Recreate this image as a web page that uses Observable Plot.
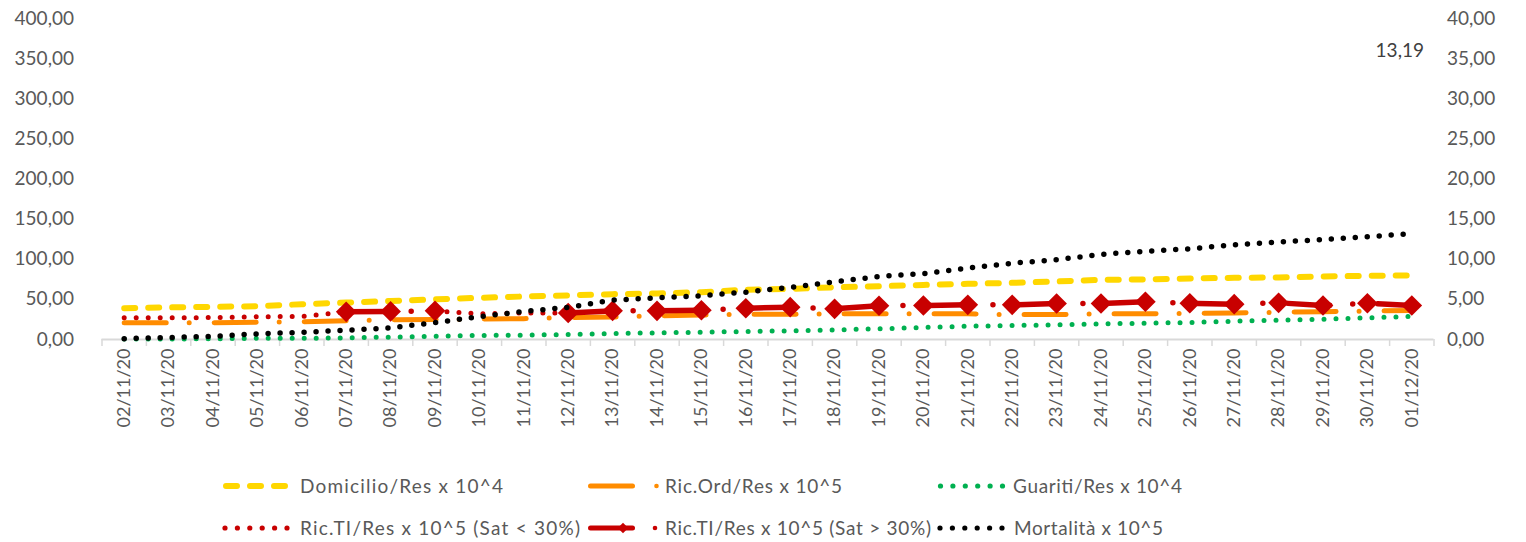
<!DOCTYPE html>
<html><head><meta charset="utf-8">
<script src="https://cdn.jsdelivr.net/npm/d3@7"></script>
<script src="https://cdn.jsdelivr.net/npm/@observablehq/plot@0.6"></script>
<style>
body{margin:0;background:#fff;font-family:Lato,"Open Sans",sans-serif;}
#wrap{position:relative;width:1526px;height:542px;overflow:hidden;}
#chart{position:absolute;left:0;top:0;}
#legend{position:absolute;left:0;top:445px;}
</style></head><body>
<div id="wrap"><div id="chart"></div><svg id="legend" width="1526" height="97"></svg></div>
<script>
const dates = ["02/11/20","03/11/20","04/11/20","05/11/20","06/11/20","07/11/20","08/11/20","09/11/20","10/11/20","11/11/20","12/11/20","13/11/20","14/11/20","15/11/20","16/11/20","17/11/20","18/11/20","19/11/20","20/11/20","21/11/20","22/11/20","23/11/20","24/11/20","25/11/20","26/11/20","27/11/20","28/11/20","29/11/20","30/11/20","01/12/20"];
// left axis units
const domicilio = [39, 40, 40.7, 41.5, 44, 46, 48, 50, 52, 53.6, 55, 56.5, 57.3, 59, 62, 63, 65, 66.4, 68, 69.4, 70.6, 72.3, 74.4, 74.8, 76, 76.9, 77.3, 78.5, 79.4, 79.8];
const ricOrd = [21, 21, 21, 21.5, 22, 23.5, 24.5, 25, 25.5, 26, 27.5, 28, 29.5, 30.5, 31.5, 31.5, 32, 32, 32, 32, 31, 31, 32, 32, 32.5, 33, 34, 34.5, 35.5, 36];
const guariti = [0.5, 0.5, 1, 1.5, 1.5, 2, 3, 4, 5, 5.4, 6.2, 7.5, 8.3, 9.1, 10, 10.8, 12, 13.3, 15, 16.6, 17.4, 18.3, 19.5, 20.3, 21.2, 22.8, 24, 25.3, 27, 28.7];
const ricTIlow = [27, 27, 27.4, 28.3, 28.7, 34.5, null, 35.7, 32, 33, 33, null, null, null, null, null, null, null, null, null, null, null, null, null, null, null, null, null, null, null];
const ricTIhigh = [null, null, null, null, null, 34.5, 35, 35.7, null, null, 33, 35.7, 35.7, 36.5, 39, 40.3, 38.2, 42, 42.4, 43.2, 43.2, 44.9, 44.9, 47, 45.2, 44, 45.7, 42.4, 45.2, 42.4];
// right axis units
const mortalita = [0.1, 0.25, 0.4, 0.7, 0.9, 1.15, 1.45, 2.1, 2.85, 3.5, 4.0, 4.9, 5.2, 5.45, 5.9, 6.5, 7.2, 7.85, 8.2, 8.9, 9.5, 9.95, 10.6, 11.0, 11.3, 11.8, 12.15, 12.45, 12.8, 13.19];
const leftTicks = [0, 50, 100, 150, 200, 250, 300, 350, 400];
const legendLabels = ["Domicilio/Res x 10^4", "Ric.Ord/Res x 10^5", "Guariti/Res x 10^4", "Ric.TI/Res x 10^5 (Sat < 30%)", "Ric.TI/Res x 10^5 (Sat > 30%)", "Mortalità x 10^5"];

const C = {yellow:"#FFD700", orange:"#FF8C00", green:"#00B050", red:"#C80000", black:"#000000", text:"#595959"};
const rows = dates.map((d, i) => ({i, date: d, domicilio: domicilio[i], ricOrd: ricOrd[i], guariti: guariti[i], low: ricTIlow[i], high: ricTIhigh[i], mort: mortalita[i]}));
const fmt = v => v.toFixed(2).replace(".", ",");
const idx = d3.range(dates.length);
const bounds = d3.range(dates.length + 1).map(i => i - 0.5);
const R2 = 10; // right axis = left / 10

const chart = Plot.plot({
  width: 1526, height: 445,
  marginLeft: 101.5, marginRight: 92.5, marginTop: 18, marginBottom: 106,
  x: {type: "linear", domain: [-0.5, dates.length - 0.5], axis: null, label: null},
  y: {domain: [0, 400], axis: null, label: null},
  style: {fontFamily: "Lato, 'Open Sans', sans-serif", color: C.text, background: "white"},
  marks: [
    Plot.axisY({ticks: leftTicks, anchor: "left", tickSize: 0, tickPadding: 28, tickFormat: fmt, fontSize: 19, label: null}),
    Plot.axisY({ticks: leftTicks, anchor: "right", tickSize: 0, tickPadding: 13, tickFormat: d => fmt(d / R2), fontSize: 19, label: null}),
    Plot.axisX({ticks: bounds, tickSize: 7, stroke: "#d9d9d9", strokeWidth: 1.5, tickFormat: () => "", label: null}),
    Plot.axisX({ticks: idx, tickSize: 0, tickPadding: 9, tickRotate: -90, tickFormat: i => dates[i], fontSize: 18, label: null}),
    Plot.ruleY([0], {stroke: "#d9d9d9", strokeWidth: 2}),
    Plot.lineY(rows, {x: "i", y: "domicilio", stroke: C.yellow, strokeWidth: 6, strokeLinecap: "round", strokeDasharray: "11,13"}),
    Plot.lineY(rows, {x: "i", y: "ricOrd", stroke: C.orange, strokeWidth: 5, strokeLinecap: "round", strokeDasharray: "42,23,0,25"}),
    Plot.lineY(rows, {x: "i", y: "guariti", stroke: C.green, strokeWidth: 5, strokeLinecap: "round", strokeDasharray: "0,12"}),
    Plot.lineY(rows, {x: "i", y: "low", stroke: C.red, strokeWidth: 5, strokeLinecap: "round", strokeDasharray: "0,12"}),
    Plot.lineY(rows, {x: "i", y: "high", stroke: C.red, strokeWidth: 5.5, strokeLinecap: "round", strokeDasharray: "42,23,0,25"}),
    Plot.dot(rows, {x: "i", y: "high", symbol: "diamond2", r: 9.3, fill: C.red, stroke: "none"}),
    Plot.lineY(rows, {x: "i", y: d => d.mort * R2, stroke: C.black, strokeWidth: 5.5, strokeLinecap: "round", strokeDasharray: "0,12"}),
    Plot.text(rows.slice(-1), {x: "i", y: d => d.mort * R2, text: d => fmt(d.mort), dx: -12, dy: -183, fontSize: 19, fill: "#404040"})
  ]
});
document.getElementById("chart").appendChild(chart);

// legend
const lg = d3.select("#legend");
const rowY = [41, 83];
const txt = (x, y, s, w) => lg.append("text").attr("x", x).attr("y", y).attr("dy", "0.35em")
  .attr("fill", C.text).attr("font-size", 19).attr("font-family", "Lato, 'Open Sans', sans-serif")
  .attr("textLength", w).attr("lengthAdjust", "spacing").text(s);
const dots = (x0, y, color) => { for (let k = 0; k < 6; k++) lg.append("circle").attr("cx", x0 + k * 12.4).attr("cy", y).attr("r", 2.6).attr("fill", color); };
// row 1
lg.append("line").attr("x1", 226).attr("x2", 285).attr("y1", rowY[0]).attr("y2", rowY[0]).attr("stroke", C.yellow).attr("stroke-width", 6).attr("stroke-linecap", "round").attr("stroke-dasharray", "11,13");
txt(300, rowY[0], legendLabels[0], 203);
lg.append("line").attr("x1", 590.5).attr("x2", 632.5).attr("y1", rowY[0]).attr("y2", rowY[0]).attr("stroke", C.orange).attr("stroke-width", 5).attr("stroke-linecap", "round");
lg.append("circle").attr("cx", 656.5).attr("cy", rowY[0]).attr("r", 2.3).attr("fill", C.orange);
txt(665, rowY[0], legendLabels[1], 177);
dots(940.5, rowY[0], C.green);
txt(1013, rowY[0], legendLabels[2], 169);
// row 2
dots(225, rowY[1], C.red);
txt(300, rowY[1], legendLabels[3], 280);
lg.append("line").attr("x1", 590.5).attr("x2", 632.5).attr("y1", rowY[1]).attr("y2", rowY[1]).attr("stroke", C.red).attr("stroke-width", 5).attr("stroke-linecap", "round");
lg.append("path").attr("d", d3.symbol(d3.symbolDiamond2, 70)()).attr("transform", `translate(623,${rowY[1]})`).attr("fill", C.red);
lg.append("circle").attr("cx", 655).attr("cy", rowY[1]).attr("r", 2.3).attr("fill", C.red);
txt(665, rowY[1], legendLabels[4], 266);
dots(940, rowY[1], C.black);
txt(1014, rowY[1], legendLabels[5], 149);
</script>
</body></html>
